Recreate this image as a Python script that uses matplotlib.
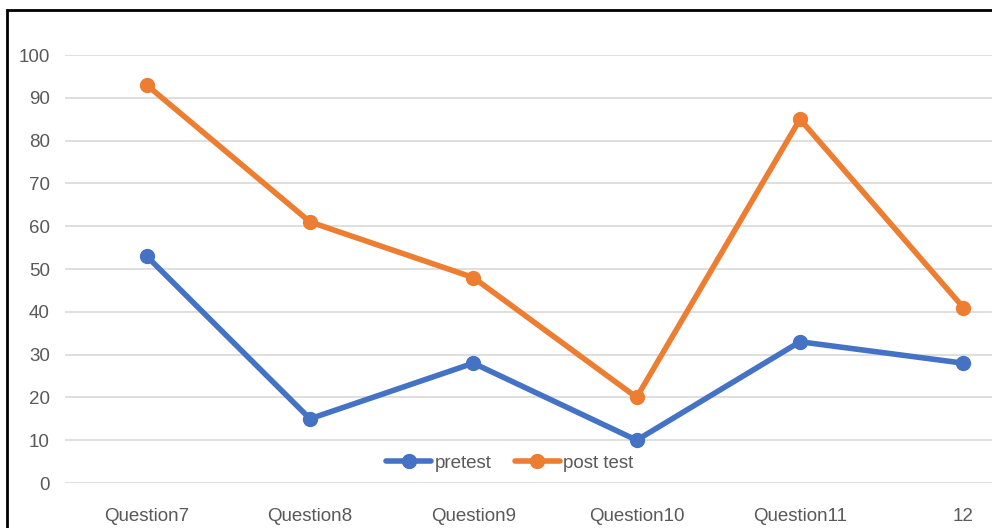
import matplotlib
matplotlib.use("Agg")
import matplotlib.pyplot as plt
from matplotlib.patches import Rectangle

categories = ["Question7", "Question8", "Question9", "Question10", "Question11", "12"]
pretest = [53, 15, 28, 10, 33, 28]
post_test = [93, 61, 48, 20, 85, 41]
y_ticks = [0, 10, 20, 30, 40, 50, 60, 70, 80, 90, 100]

W, H = 992, 528
fig = plt.figure(figsize=(W / 100, H / 100), dpi=100)
plt.rcParams["font.family"] = ["Liberation Sans Narrow", "Liberation Sans", "DejaVu Sans"]

# plot area runs past the right edge of the canvas
left_px, right_px, top_px, bottom_px = 65, 1045, 55, 483
ax = fig.add_axes([left_px / W, (H - bottom_px) / H,
                   (right_px - left_px) / W, (bottom_px - top_px) / H])

x = list(range(len(categories)))
ax.plot(x, pretest, color="#4472C4", lw=4, marker="o", ms=10, label="pretest",
        solid_capstyle="round", zorder=3)
ax.plot(x, post_test, color="#ED7D31", lw=4, marker="o", ms=10, label="post test",
        solid_capstyle="round", zorder=3)

ax.set_xlim(-0.5, len(categories) - 0.5)
ax.set_ylim(0, 100)
ax.set_yticks(y_ticks)
ax.set_xticks(x)
ax.set_xticklabels(categories)
ax.yaxis.grid(True, color="#d9d9d9", lw=1.2)
ax.set_axisbelow(True)
for s in ax.spines.values():
    s.set_visible(False)
ax.tick_params(axis="both", length=0, colors="#595959", labelsize=13.5)
ax.tick_params(axis="y", pad=11)
ax.tick_params(axis="x", pad=18)

leg = ax.legend(loc="center", bbox_to_anchor=((510 - left_px) / (right_px - left_px),
                                              (bottom_px - 463) / (bottom_px - top_px)),
                ncol=2, frameon=False, fontsize=13.5, handlelength=2.4,
                columnspacing=1.2, handletextpad=0.2, borderaxespad=0)
for t in leg.get_texts():
    t.set_color("#595959")

# outer chart frame, cropped at right and bottom
fig.patches.append(Rectangle((7 / W, -0.1), 1.2, (H - 10) / H + 0.1,
                             transform=fig.transFigure, fill=False,
                             edgecolor="black", lw=2, clip_on=False))

fig.savefig("out.png", dpi=100, facecolor="white")
